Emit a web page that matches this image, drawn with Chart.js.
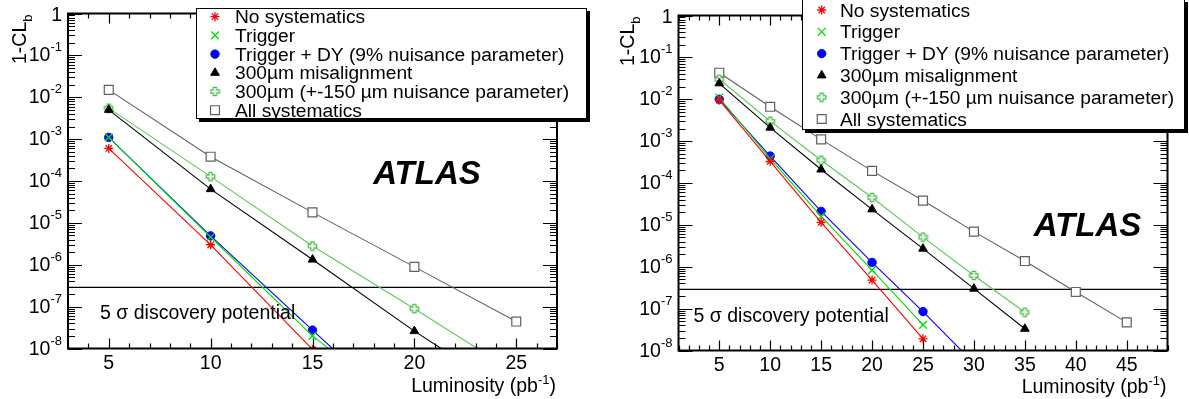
<!DOCTYPE html>
<html><head><meta charset="utf-8">
<script src="https://cdn.jsdelivr.net/npm/chart.js@4.4.1/dist/chart.umd.min.js"></script>
<style>
html,body{margin:0;padding:0;background:#fff;}
#wrap{position:relative;width:1189px;height:399px;overflow:hidden;}
canvas{position:absolute;top:0;}
#c1{left:0;} #c2{left:590px;}
</style></head><body>
<div id="wrap"><canvas id="c1" width="590" height="399"></canvas><canvas id="c2" width="599" height="399"></canvas></div>
<script>
// ---------- data ----------
const seriesNames = ["No systematics", "Trigger", "Trigger + DY (9% nuisance parameter)",
  "300\u00b5m misalignment", "300\u00b5m (+-150 \u00b5m nuisance parameter)", "All systematics"];

const lumiLeft = [5, 10, 15, 20, 25];
const leftNoSyst    = [6.0e-4, 3.0e-6, 9.5e-9];
const leftTrigger   = [1.1e-3, 4.6e-6, 2.0e-8, 2.5e-10];
const leftTriggerDY = [1.1e-3, 4.9e-6, 2.75e-8, 1.6e-10];
const leftMisalign  = [5.0e-3, 6.4e-5, 1.33e-6, 2.6e-8, 7e-10];
const leftNuisance  = [5.5e-3, 1.27e-4, 2.8e-6, 8.9e-8, 2.6e-9];
const leftAllSyst   = [1.5e-2, 3.8e-4, 1.78e-5, 8.9e-7, 4.4e-8];

const lumiRight = [5, 10, 15, 20, 25, 30, 35, 40, 45];
const rightNoSyst    = [9.5e-3, 3.3e-4, 1.15e-5, 4.8e-7, 1.9e-8];
const rightTrigger   = [1.1e-2, 3.8e-4, 1.6e-5, 8.3e-7, 4.1e-8];
const rightTriggerDY = [1.0e-2, 4.4e-4, 2.1e-5, 1.27e-6, 8.5e-8, 5e-9];
const rightMisalign  = [2.4e-2, 2.1e-3, 2.1e-4, 2.35e-5, 2.7e-6, 3.0e-7, 3.3e-8];
const rightNuisance  = [3.0e-2, 3.0e-3, 3.5e-4, 4.5e-5, 5.1e-6, 6.2e-7, 8.2e-8];
const rightAllSyst   = [4.3e-2, 6.6e-3, 1.1e-3, 1.95e-4, 3.8e-5, 6.9e-6, 1.37e-6, 2.5e-7, 4.7e-8];

const xTicksLeft  = [5, 10, 15, 20, 25];
const xTicksRight = [5, 10, 15, 20, 25, 30, 35, 40, 45];
const yTickExponents = [0, -1, -2, -3, -4, -5, -6, -7, -8];
const fiveSigma = 2.87e-7;
const discoveryText = "5 \u03c3 discovery potential";
const experimentLabel = "ATLAS";

// ---------- styles ----------
const FONT = '"Liberation Sans", Arial, Helvetica, sans-serif';
function openCross(color){
  const c = document.createElement('canvas'); c.width = 11; c.height = 11;
  const g = c.getContext('2d'); const cx = 5.5, cy = 5.5, a = 1.6, b = 4.2;
  const pts = [[-a,-b],[a,-b],[a,-a],[b,-a],[b,a],[a,a],[a,b],[-a,b],[-a,a],[-b,a],[-b,-a],[-a,-a]];
  g.beginPath(); pts.forEach((p,i)=> i? g.lineTo(cx+p[0],cy+p[1]) : g.moveTo(cx+p[0],cy+p[1]));
  g.closePath(); g.fillStyle='#fff'; g.fill(); g.strokeStyle=color; g.lineWidth=1.2; g.stroke();
  return c;
}
const styles = [
  {line:'#ff0000', pt:'#ff0000', bg:'#ff0000', style:'star', r:4.5, bw:1.3},
  {line:'#00e000', pt:'#00e000', bg:'#00e000', style:'crossRot', r:5.5, bw:1.3},
  {line:'#0000ff', pt:'#0000ff', bg:'#0000ff', style:'circle', r:4.2, bw:1},
  {line:'#000000', pt:'#000000', bg:'#000000', style:'triangle', r:5, bw:1},
  {line:'#55cc55', pt:'#55cc55', bg:'#ffffff', style:openCross('#44bb44'), r:5, bw:1},
  {line:'#606060', pt:'#606060', bg:'#ffffff', style:'rect', r:6.3, bw:1.2}
];

function toPts(xs, ys){ return ys.map((v,i)=>({x:xs[i], y:v})); }

function drawMarker(ctx, s, x, y){
  ctx.save();
  ctx.strokeStyle = s.pt; ctx.fillStyle = s.bg; ctx.lineWidth = s.bw;
  if (typeof s.style === 'object'){ ctx.drawImage(s.style, x - s.style.width/2, y - s.style.height/2); ctx.restore(); return; }
  const r = s.r; ctx.beginPath();
  if (s.style==='star'){ ctx.moveTo(x-r,y);ctx.lineTo(x+r,y);ctx.moveTo(x,y-r);ctx.lineTo(x,y+r);
    const d=r*0.7071; ctx.moveTo(x-d,y-d);ctx.lineTo(x+d,y+d);ctx.moveTo(x-d,y+d);ctx.lineTo(x+d,y-d); ctx.stroke(); }
  else if (s.style==='crossRot'){ const d=r*0.7071; ctx.moveTo(x-d,y-d);ctx.lineTo(x+d,y+d);ctx.moveTo(x-d,y+d);ctx.lineTo(x+d,y-d); ctx.stroke(); }
  else if (s.style==='circle'){ ctx.arc(x,y,r,0,Math.PI*2); ctx.fill(); ctx.stroke(); }
  else if (s.style==='triangle'){ const w=r*0.866; ctx.moveTo(x,y-r); ctx.lineTo(x+w,y+r/2); ctx.lineTo(x-w,y+r/2); ctx.closePath(); ctx.fill(); ctx.stroke(); }
  else if (s.style==='rect'){ const d=r*0.7071; ctx.rect(x-d,y-d,2*d,2*d); ctx.fill(); ctx.stroke(); }
  ctx.restore();
}

function makePanel(canvasId, cfg){
  const datasets = cfg.series.map((vals,i)=>{
    const s = styles[i];
    return {
      label: seriesNames[i], data: toPts(cfg.lumi, vals), showLine: true, tension: 0,
      borderColor: s.line, borderWidth: 1.1, pointStyle: s.style, pointRadius: s.r,
      pointBorderColor: s.pt, pointBackgroundColor: s.bg, pointBorderWidth: s.bw,
      clip: 0, order: i
    };
  });
  datasets.push({label:'5sigma', data:[{x:cfg.xmin,y:fiveSigma},{x:cfg.xmax,y:fiveSigma}], showLine:true,
    borderColor:'#000', borderWidth:1.2, pointRadius:0, clip:0, order:10});

  const rootPlugin = {
    id: 'rootStyle',
    afterDraw(chart){
      const ctx = chart.ctx, a = chart.chartArea, xs = chart.scales.x, ys = chart.scales.y;
      const F = '19.5px ' + FONT, FS = '13px ' + FONT;
      ctx.save();
      // frame
      ctx.strokeStyle = '#000'; ctx.lineWidth = 2;
      ctx.strokeRect(a.left, a.top, a.right - a.left, a.bottom - a.top);
      // y ticks
      ctx.lineWidth = 1.2; ctx.beginPath();
      yTickExponents.forEach(e=>{
        const py = Math.round(ys.getPixelForValue(Math.pow(10,e))) + 0.5;
        ctx.moveTo(a.left, py); ctx.lineTo(a.left + 14, py);
        ctx.moveTo(a.right, py); ctx.lineTo(a.right - 14, py);
        if (e > -8){
          for (let m = 2; m <= 9; m++){
            const q = Math.round(ys.getPixelForValue(m*Math.pow(10,e-1))) + 0.5;
            ctx.moveTo(a.left, q); ctx.lineTo(a.left + 7, q);
            ctx.moveTo(a.right, q); ctx.lineTo(a.right - 7, q);
          }
        }
      });
      // x ticks
      for (let v = Math.ceil(xs.min); v <= Math.floor(xs.max); v++){
        const px = Math.round(xs.getPixelForValue(v)) + 0.5;
        const len = cfg.xTicks.includes(v) ? 10 : 5;
        ctx.moveTo(px, a.bottom); ctx.lineTo(px, a.bottom - len);
        ctx.moveTo(px, a.top); ctx.lineTo(px, a.top + len);
      }
      ctx.stroke();
      ctx.fillStyle = '#000';
      // x labels
      ctx.font = F; ctx.textAlign = 'center'; ctx.textBaseline = 'alphabetic';
      cfg.xTicks.forEach(v=>{ ctx.fillText(String(v), xs.getPixelForValue(v), a.bottom + 20); });
      // y labels
      ctx.textAlign = 'right';
      yTickExponents.forEach(e=>{
        const py = ys.getPixelForValue(Math.pow(10,e));
        const xr = a.left - 6;
        if (e === 0){ ctx.font = F; ctx.fillText('1', xr, py + 7); }
        else {
          ctx.font = FS; const sup = String(e); const sw = ctx.measureText(sup).width;
          ctx.fillText(sup, xr, py - 4);
          ctx.font = F; ctx.fillText('10', xr - sw, py + 6);
        }
      });
      // y title
      ctx.save();
      ctx.font = F; const w1 = ctx.measureText('1-CL').width;
      ctx.font = FS; const w2 = ctx.measureText('b').width;
      ctx.translate(cfg.yTitleX, a.top + 1 + w1 + w2); ctx.rotate(-Math.PI/2);
      ctx.textAlign = 'left';
      ctx.font = F; ctx.fillText('1-CL', 0, 0);
      ctx.font = FS; ctx.fillText('b', w1, 6);
      ctx.restore();
      // x title
      ctx.textAlign = 'left';
      ctx.font = F; const t1 = 'Luminosity (pb', t3 = ')';
      const tw1 = ctx.measureText(t1).width, tw3 = ctx.measureText(t3).width;
      ctx.font = FS; const tw2 = ctx.measureText('-1').width;
      let x0 = a.right - 1 - tw1 - tw2 - tw3, by = cfg.xTitleY;
      ctx.font = F; ctx.fillText(t1, x0, by);
      ctx.font = FS; ctx.fillText('-1', x0 + tw1, by - 8);
      ctx.font = F; ctx.fillText(t3, x0 + tw1 + tw2, by);
      // 5 sigma text
      ctx.font = F; ctx.fillText(discoveryText, a.left + cfg.sigTextDx, cfg.sigTextY);
      // ATLAS
      ctx.font = 'italic bold 33px ' + FONT; ctx.textAlign = 'center'; ctx.textBaseline = 'middle';
      ctx.fillText(experimentLabel, cfg.atlasX, cfg.atlasY);
      // legend
      const L = cfg.legend;
      ctx.fillStyle = '#000'; ctx.fillRect(L.x + 3, L.y + 3, L.w, L.h);
      ctx.fillStyle = '#fff'; ctx.fillRect(L.x, L.y, L.w, L.h);
      ctx.strokeStyle = '#000'; ctx.lineWidth = 1; ctx.strokeRect(L.x + 0.5, L.y + 0.5, L.w - 1, L.h - 1);
      ctx.textAlign = 'left'; ctx.textBaseline = 'alphabetic'; ctx.font = '19.2px ' + FONT;
      seriesNames.forEach((n,i)=>{
        const yy = L.row0 + i * L.dy;
        drawMarker(ctx, styles[i], L.mx, yy);
        ctx.fillStyle = '#000'; ctx.fillText(n, L.tx, yy + 6.5);
      });
      ctx.restore();
    }
  };

  return new Chart(document.getElementById(canvasId), {
    type: 'scatter',
    data: { datasets },
    options: {
      responsive: false, animation: false, devicePixelRatio: 1, events: [],
      layout: { padding: cfg.pad },
      plugins: { legend: { display: false }, tooltip: { enabled: false } },
      scales: {
        x: { type: 'linear', min: cfg.xmin, max: cfg.xmax, display: false },
        y: { type: 'logarithmic', min: 1e-8, max: 1, display: false }
      }
    },
    plugins: [rootPlugin]
  });
}

makePanel('c1', {
  lumi: lumiLeft,
  series: [leftNoSyst, leftTrigger, leftTriggerDY, leftMisalign, leftNuisance, leftAllSyst],
  xmin: 3, xmax: 27, xTicks: xTicksLeft,
  pad: { left: 68, right: 33, top: 13.5, bottom: 50.5 },
  yTitleX: 25.5, xTitleY: 391.5,
  sigTextDx: 32, sigTextY: 318.5,
  atlasX: 427, atlasY: 175,
  legend: { x: 196, y: 8, w: 391, h: 111, mx: 215, tx: 235, row0: 16.7, dy: 18.7 }
});

makePanel('c2', {
  lumi: lumiRight,
  series: [rightNoSyst, rightTrigger, rightTriggerDY, rightMisalign, rightNuisance, rightAllSyst],
  xmin: 1, xmax: 49, xTicks: xTicksRight,
  pad: { left: 88.5, right: 21.5, top: 15.5, bottom: 48.5 },
  yTitleX: 43.5, xTitleY: 392.5,
  sigTextDx: 15, sigTextY: 321.5,
  atlasX: 497.5, atlasY: 227,
  legend: { x: 212, y: -1, w: 383, h: 131, mx: 231.7, tx: 250, row0: 10, dy: 21.8 }
});
</script>
</body></html>
